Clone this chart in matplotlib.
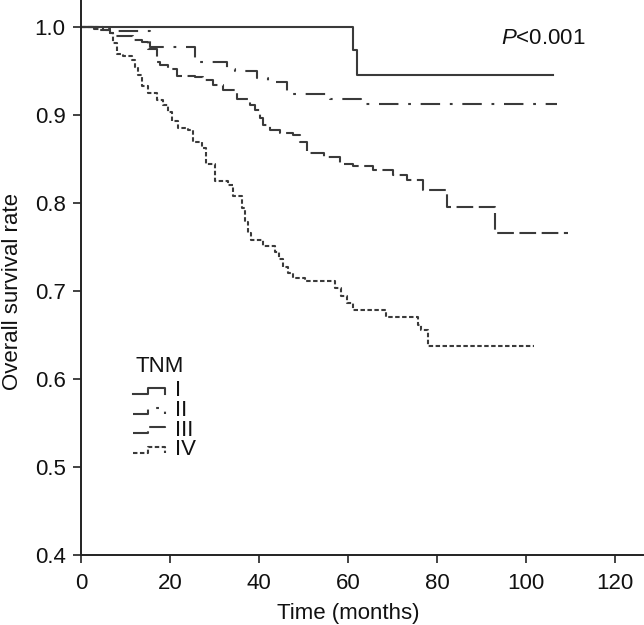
import matplotlib
matplotlib.use('Agg')
import matplotlib.pyplot as plt
from matplotlib.ticker import MultipleLocator, FormatStrFormatter

plt.rcParams['font.family'] = ['Liberation Sans', 'DejaVu Sans']
plt.rcParams['mathtext.fontset'] = 'custom'
plt.rcParams['mathtext.it'] = 'Liberation Sans:italic'
plt.rcParams['mathtext.rm'] = 'Liberation Sans'
plt.rcParams['lines.scale_dashes'] = False

# Kaplan-Meier curves (time in months, survival rate)
t_I = [0, 61.2, 62.1, 106.1]
s_I = [1.0, 0.974, 0.946, 0.946]

t_II = [0, 3, 7, 15.5, 25.6, 32.7, 34.6, 39.5, 42, 46.2, 56, 63, 107]
s_II = [1.0, 0.998, 0.996, 0.978, 0.961, 0.953, 0.950, 0.942, 0.938,
        0.924, 0.918, 0.913, 0.913]

t_III = [0, 4, 6.5, 7.6, 11.7, 13.6, 15.1, 17, 17.8, 19.6, 21.5, 25.6,
         27.5, 29.7, 32, 35, 38, 39.1, 40.2, 41, 42.5, 44.7, 47.7, 49.2,
         50.7, 54.5, 58.2, 61.2, 65.7, 70.2, 73.2, 76.9, 82.2, 93, 109.5]
s_III = [1.0, 0.997, 0.993, 0.990, 0.986, 0.983, 0.975, 0.961, 0.957,
         0.953, 0.945, 0.943, 0.940, 0.934, 0.929, 0.919, 0.912, 0.906,
         0.897, 0.889, 0.883, 0.880, 0.878, 0.870, 0.857, 0.852, 0.845,
         0.842, 0.838, 0.832, 0.826, 0.815, 0.796, 0.766, 0.766]

t_IV = [0, 5, 6.5, 7.3, 8, 9.5, 11.4, 12.1, 12.9, 13.6, 15.1, 17, 18.5,
        19.6, 20.4, 21.9, 24.1, 25.2, 27.1, 28.2, 30.1, 33.1, 34.2, 36.1,
        36.9, 37.5, 38.3, 41, 43.5, 44.5, 45.5, 46.5, 47.7, 50.3, 57.1,
        58.5, 59.8, 61.2, 68.6, 75.8, 76.5, 78, 101.7]
s_IV = [1.0, 0.997, 0.993, 0.982, 0.970, 0.967, 0.963, 0.955, 0.946,
        0.933, 0.925, 0.917, 0.912, 0.904, 0.893, 0.885, 0.883, 0.870,
        0.863, 0.845, 0.825, 0.821, 0.808, 0.794, 0.779, 0.766, 0.758,
        0.751, 0.745, 0.737, 0.728, 0.721, 0.715, 0.711, 0.703, 0.695,
        0.687, 0.679, 0.671, 0.662, 0.656, 0.638, 0.638]

stage_labels = ['I', 'II', 'III', 'IV']
curves = [(t_I, s_I), (t_II, s_II), (t_III, s_III), (t_IV, s_IV)]

line_color = '#3a3a3a'
dash_styles = [None, (14, 7, 2, 7), (12, 4), (3.2, 1.8)]
fs = 16

fig = plt.figure(figsize=(6.44, 6.25), dpi=100)
ax = fig.add_axes([81 / 644, 70 / 625, 562 / 644, 555 / 625])

for (t, s), dashes in zip(curves, dash_styles):
    line, = ax.step(t, s, where='post', color=line_color, lw=1.5)
    if dashes is not None:
        line.set_dashes(dashes)

ax.set_xlim(0, 126.3)
ax.set_ylim(0.4, 1.031)

ax.xaxis.set_major_locator(MultipleLocator(20))
ax.xaxis.set_major_formatter(FormatStrFormatter('%d'))
ax.yaxis.set_major_locator(MultipleLocator(0.1))
ax.yaxis.set_major_formatter(FormatStrFormatter('%.1f'))
ax.set_xticks(range(0, 121, 20))

for side in ['top', 'right']:
    ax.spines[side].set_visible(False)
for side in ['left', 'bottom']:
    ax.spines[side].set_linewidth(1.4)
    ax.spines[side].set_color('#222222')

ax.tick_params(axis='both', direction='out', length=6, width=1.2,
               color='#222222', labelsize=fs, labelcolor='#111111')
ax.tick_params(axis='x', pad=7)
ax.tick_params(axis='y', pad=5)

ax.set_xlabel('Time (months)', fontsize=fs, color='#111111')
ax.set_ylabel('Overall survival rate', fontsize=fs, color='#111111')
ax.xaxis.set_label_coords(60 / 126.3, -0.087)
ax.yaxis.set_label_coords((23 - 81) / 562, (0.7 - 0.4) / (1.031 - 0.4))

ax.text(94.5, 0.9875, r'$\mathit{P}$<0.001', fontsize=fs, color='#111111',
        va='center', ha='left')

# legend with step-shaped keys
def px2ax(px, py):
    return (px - 81) / 562, (555 - py) / 555

tx, ty = px2ax(135, 366)
ax.text(tx, ty, 'TNM', transform=ax.transAxes, fontsize=fs,
        color='#111111', va='center', ha='left')
for i, (lab, dashes) in enumerate(zip(stage_labels, dash_styles)):
    yc = 391 + i * 19.5
    pts = [px2ax(133, yc + 3), px2ax(148, yc + 3), px2ax(148, yc - 3),
           px2ax(165, yc - 3), px2ax(165, yc + 3)]
    key, = ax.plot([p[0] for p in pts], [p[1] for p in pts],
                   transform=ax.transAxes, color=line_color, lw=1.5,
                   clip_on=False)
    if dashes is not None:
        key.set_dashes(dashes)
    lx, ly = px2ax(175, yc)
    ax.text(lx, ly, lab, transform=ax.transAxes, fontsize=fs,
            color='#111111', va='center', ha='left')

fig.savefig('out.png', dpi=100)
